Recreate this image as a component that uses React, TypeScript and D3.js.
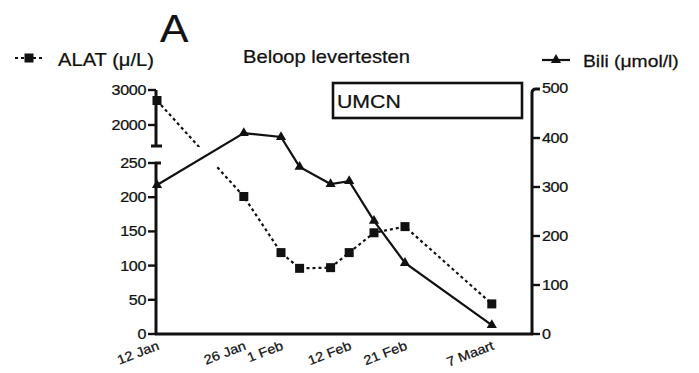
import React, { useEffect, useRef } from "react";
import * as d3 from "d3";

const dates = [
  "2011-01-12", "2011-01-26", "2011-02-01", "2011-02-04", "2011-02-09",
  "2011-02-12", "2011-02-16", "2011-02-21", "2011-03-07",
];
const alat = [2700, 201, 119, 96, 97, 119, 148, 157, 44];
const bili = [304, 410, 402, 341, 306, 312, 231, 145, 18];

const xTickDates = ["2011-01-12", "2011-01-26", "2011-02-01", "2011-02-12", "2011-02-21", "2011-03-07"];
const xTickLabels = ["12 Jan", "26 Jan", "1 Feb", "12 Feb", "21 Feb", "7 Maart"];
const alatLowTicks = [0, 50, 100, 150, 200, 250];
const alatHighTicks = [2000, 3000];
const biliTicks = [0, 100, 200, 300, 400, 500];

const FONT = "'Liberation Sans', Arial, sans-serif";
const INK = "#111";

const App: React.FC = () => {
  const svgRef = useRef<SVGSVGElement>(null);

  useEffect(() => {
    if (!svgRef.current) return;
    const svg = d3.select(svgRef.current);
    svg.selectAll("*").remove();

    const parse = d3.utcParse("%Y-%m-%d");
    const left = 156, right = 532, bottom = 334;
    const lowTop = 163, highBottom = 146, highTop = 90, biliTop = 89;

    const x = d3.scaleUtc()
      .domain([parse("2011-01-12")!, parse("2011-03-13")!])
      .range([157, 529]);
    const yLow = d3.scaleLinear().domain([0, 250]).range([bottom, lowTop]);
    const yHigh = d3.scaleLinear().domain([1400, 3000]).range([highBottom, highTop]);
    // piecewise scale across the broken axis
    const yAlat = d3.scaleLinear().domain([0, 250, 1400, 3000]).range([bottom, lowTop, highBottom, highTop]);
    const yBili = d3.scaleLinear().domain([0, 500]).range([bottom, biliTop]);

    const stretch = (sel: any, tx: number, ty: number, extra = "", sx = 1.12) =>
      sel.attr("transform", `translate(${tx},${ty}) ${extra} scale(${sx},1)`)
        .attr("stroke", INK).attr("stroke-width", 0.25);

    // big panel letter
    stretch(svg.append("text").text("A").attr("font-size", 38), 160, 42)
      .attr("font-family", FONT).attr("fill", INK);

    // title
    stretch(svg.append("text").text("Beloop levertesten").attr("font-size", 18), 243, 63)
      .attr("font-family", FONT).attr("fill", INK);

    // legends
    svg.append("line").attr("x1", 15).attr("x2", 43).attr("y1", 58).attr("y2", 58)
      .attr("stroke", INK).attr("stroke-width", 2.2).attr("stroke-dasharray", "3,3");
    svg.append("rect").attr("x", 24.5).attr("y", 53.5).attr("width", 9).attr("height", 9).attr("fill", INK);
    stretch(svg.append("text").text("ALAT (\u03bc/L)").attr("font-size", 18), 58, 66)
      .attr("font-family", FONT).attr("fill", INK);

    svg.append("line").attr("x1", 542).attr("x2", 570).attr("y1", 60).attr("y2", 60)
      .attr("stroke", INK).attr("stroke-width", 2.2);
    svg.append("path").attr("d", d3.symbol(d3.symbolTriangle, 45)()!)
      .attr("transform", "translate(556,60)").attr("fill", INK);
    stretch(svg.append("text").text("Bili (\u03bcmol/l)").attr("font-size", 16.5), 583, 67, "", 1.17)
      .attr("font-family", FONT).attr("fill", INK);

    // UMCN box
    svg.append("rect").attr("x", 333).attr("y", 83).attr("width", 189).attr("height", 35)
      .attr("fill", "none").attr("stroke", INK).attr("stroke-width", 2.6);
    stretch(svg.append("text").text("UMCN").attr("font-size", 19), 337, 108)
      .attr("font-family", FONT).attr("fill", INK);

    const axisStroke = (sel: any) => sel.attr("stroke", INK).attr("stroke-width", 3).attr("fill", "none");

    // x axis
    axisStroke(svg.append("line").attr("x1", left - 1).attr("x2", right + 1).attr("y1", bottom).attr("y2", bottom));
    xTickDates.forEach((d, i) => {
      const tx = x(parse(d)!) + 3;
      stretch(
        svg.append("text").text(xTickLabels[i]).attr("font-size", 13).attr("text-anchor", "end"),
        tx, bottom + 15, "rotate(-21)", 1.12
      ).attr("font-family", FONT).attr("fill", INK);
    });

    // left axis, lower segment
    axisStroke(svg.append("line").attr("x1", left).attr("x2", left).attr("y1", lowTop).attr("y2", bottom));
    axisStroke(svg.append("line").attr("x1", left - 1).attr("x2", left + 5).attr("y1", lowTop).attr("y2", lowTop));
    // left axis, upper segment
    axisStroke(svg.append("line").attr("x1", left).attr("x2", left).attr("y1", highTop).attr("y2", highBottom));
    axisStroke(svg.append("line").attr("x1", left - 5).attr("x2", left + 6).attr("y1", highBottom).attr("y2", highBottom));

    const leftTicks = [
      ...alatLowTicks.map((v) => ({ v, y: yLow(v) })),
      ...alatHighTicks.map((v) => ({ v, y: yHigh(v) })),
    ];
    leftTicks.forEach(({ v, y }) => {
      axisStroke(svg.append("line").attr("x1", left - 8).attr("x2", left).attr("y1", y).attr("y2", y)).attr("stroke-width", 2.4);
      stretch(
        svg.append("text").text(String(v)).attr("font-size", 14).attr("text-anchor", "end").attr("dy", "0.36em"),
        left - 10, y, "", 1.15
      ).attr("font-family", FONT).attr("fill", INK).attr("letter-spacing", "-0.3");
    });

    // right axis
    axisStroke(svg.append("path").attr("d", `M${right},${bottom}V${biliTop + 4}Q${right},${biliTop} ${right + 4},${biliTop}H${right + 8}`));
    biliTicks.forEach((v) => {
      if (v !== 500)
        axisStroke(svg.append("line").attr("x1", right).attr("x2", right + 8).attr("y1", yBili(v)).attr("y2", yBili(v))).attr("stroke-width", 2.4);
      stretch(
        svg.append("text").text(String(v)).attr("font-size", 14).attr("dy", "0.36em"),
        right + 10, yBili(v) - (v === 500 ? 1 : 0), "", 1.15
      ).attr("font-family", FONT).attr("fill", INK).attr("letter-spacing", "-0.3");
    });

    // clip to hide ALAT line in the axis gap
    const defs = svg.append("defs");
    const clip = defs.append("clipPath").attr("id", "gapclip");
    clip.append("rect").attr("x", 0).attr("y", 0).attr("width", 699).attr("height", highBottom + 1);
    clip.append("rect").attr("x", 0).attr("y", lowTop + 3).attr("width", 699).attr("height", 373);

    const points = dates.map((d, i) => ({ date: parse(d)!, alat: alat[i], bili: bili[i] }));

    // Bili solid line
    svg.append("path")
      .attr("d", d3.line<any>().x((d) => x(d.date)).y((d) => yBili(d.bili))(points)!)
      .attr("fill", "none").attr("stroke", INK).attr("stroke-width", 2.2);
    svg.selectAll(".tri").data(points).enter().append("path")
      .attr("d", d3.symbol(d3.symbolTriangle, 45)()!)
      .attr("transform", (d) => `translate(${x(d.date)},${yBili(d.bili)})`)
      .attr("fill", INK);

    // ALAT dotted line
    svg.append("path")
      .attr("d", d3.line<any>().x((d) => x(d.date)).y((d) => yAlat(d.alat))(points)!)
      .attr("fill", "none").attr("stroke", INK).attr("stroke-width", 2.2)
      .attr("stroke-dasharray", "3,3").attr("clip-path", "url(#gapclip)");
    svg.selectAll(".sq").data(points).enter().append("rect")
      .attr("x", (d) => x(d.date) - 4.5).attr("y", (d) => yAlat(d.alat) - 4.5)
      .attr("width", 9).attr("height", 9).attr("fill", INK);
  }, []);

  return (
    <svg
      ref={svgRef}
      width={699}
      height={373}
      style={{ position: "absolute", left: 0, top: 0, background: "#fff" }}
    />
  );
};

export default App;
